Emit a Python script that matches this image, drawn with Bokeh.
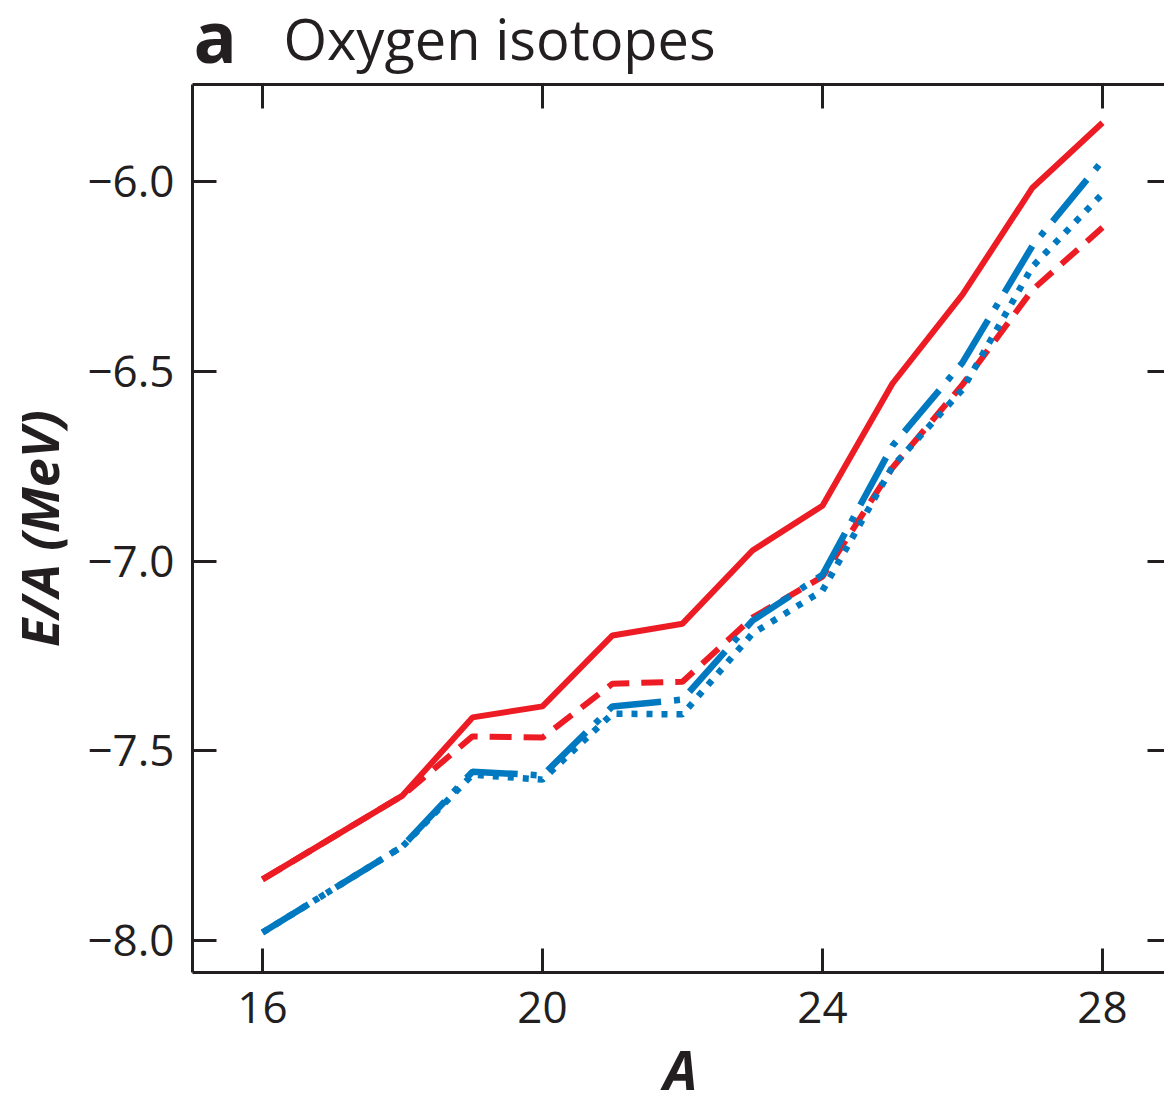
from bokeh.plotting import figure
from bokeh.layouts import column
from bokeh.models import Range1d, LinearAxis, FixedTicker, CustomJSTickFormatter
from bokeh.core.properties import value
from bokeh.embed import file_html
from bokeh.resources import INLINE

# ---- data ----
mass_number = [16, 18, 19, 20, 21, 22, 23, 24, 25, 26, 27, 28]
red_solid = [-7.839, -7.618, -7.412, -7.383, -7.196, -7.165, -6.972, -6.854, -6.532, -6.298, -6.016, -5.845]
red_dashed = [-7.839, -7.618, -7.462, -7.465, -7.323, -7.318, -7.149, -7.041, -6.754, -6.535, -6.285, -6.121]
blue_dashdot = [-7.979, -7.752, -7.555, -7.565, -7.383, -7.365, -7.157, -7.036, -6.696, -6.477, -6.169, -5.945]
blue_dotted = [-7.979, -7.752, -7.563, -7.576, -7.402, -7.404, -7.191, -7.078, -6.751, -6.548, -6.224, -6.032]

x_ticks = [16, 20, 24, 28]
x_tick_labels = ["16", "20", "24", "28"]
y_ticks = [-8.0, -7.5, -7.0, -6.5, -6.0]

panel_letter = "a"
title_text = "Oxygen isotopes"
x_label = "A"
y_label = "E/A (MeV)"

RED = "#ED1C24"
BLUE = "#0079C1"
INK = "#231F20"
FONT = "Open Sans"

W = 1164
TITLE_H = 80
LEFT = 192
FRAME_W = 972
FRAME_H = 888
TOP_GAP = 4
BOTTOM_GAP = 2
BOTTOM_H = 1094 - TITLE_H - TOP_GAP - FRAME_H - BOTTOM_GAP

x_range = Range1d(15.0, 28.886)


def bare(fig):
    fig.outline_line_color = None
    fig.background_fill_color = "white"
    fig.border_fill_color = "white"
    fig.grid.visible = False


# ---- title strip (canvas-pixel coordinates) ----
t = figure(frame_width=FRAME_W, frame_height=TITLE_H, output_backend="svg", toolbar_location=None,
           x_range=Range1d(LEFT, W), y_range=Range1d(TITLE_H, 0),
           min_border_left=LEFT, min_border_right=0, min_border_top=0, min_border_bottom=0,
           x_axis_location=None, y_axis_location=None)
bare(t)
t.text(x=[193], y=[34], text=[panel_letter], text_font=value(FONT), text_font_style="bold",
       text_font_size="72px", text_color=INK, text_align="left", text_baseline="alphabetic")
t.text(x=[283], y=[37], text=[title_text], text_font=value(FONT), text_font_style="normal",
       text_font_size="56px", text_color=INK, text_align="left", text_baseline="alphabetic")

# ---- main plot ----
p = figure(frame_width=FRAME_W, frame_height=FRAME_H, output_backend="svg", toolbar_location=None,
           x_range=x_range, y_range=Range1d(-8.0843, -5.744),
           min_border_left=LEFT, min_border_right=0, min_border_top=TOP_GAP,
           min_border_bottom=BOTTOM_GAP, x_axis_location=None, y_axis_location=None)
bare(p)

fmt = CustomJSTickFormatter(code="return (tick < 0 ? '\\u2212' : '') + Math.abs(tick).toFixed(1);")


def style_axis(ax, show_labels=True, line=True, tick_in=24):
    ax.axis_line_color = INK if line else None
    ax.axis_line_width = 3
    ax.major_tick_line_color = INK
    ax.major_tick_line_width = 3
    ax.major_tick_in = tick_in
    ax.major_tick_out = 0
    ax.minor_tick_in = 0
    ax.minor_tick_out = 0
    ax.minor_tick_line_color = None
    if show_labels:
        ax.major_label_text_font = FONT
        ax.major_label_text_font_size = "44px"
        ax.major_label_text_color = INK
        ax.axis_label_text_font = FONT
        ax.axis_label_text_font_style = "bold italic"
        ax.axis_label_text_color = INK
    else:
        ax.axis_label = None
        ax.major_label_text_font_size = "0px"
        ax.major_label_standoff = 0
        ax.major_label_text_color = None


bottom = LinearAxis(ticker=FixedTicker(ticks=x_ticks))
style_axis(bottom, show_labels=False)
p.add_layout(bottom, "below")

top = LinearAxis(ticker=FixedTicker(ticks=x_ticks))
style_axis(top, show_labels=False)
p.add_layout(top, "above")

left = LinearAxis(ticker=FixedTicker(ticks=y_ticks), formatter=fmt, axis_label=y_label)
style_axis(left)
left.major_label_standoff = 18
left.axis_label_text_font_size = "52px"
left.axis_label_standoff = 10
p.add_layout(left, "left")

right = LinearAxis(ticker=FixedTicker(ticks=y_ticks))
style_axis(right, show_labels=False, line=False, tick_in=17)
p.add_layout(right, "right")

p.line(mass_number, red_solid, line_color=RED, line_width=6)
p.line(mass_number, red_dashed, line_color=RED, line_width=6, line_dash="22 12")
p.line(mass_number, blue_dotted, line_color=BLUE, line_width=6.5, line_dash="6 9")
p.line(mass_number, blue_dashdot, line_color=BLUE, line_width=6.5, line_dash="54 13 6 13")

# ---- bottom strip: x tick labels and axis title, on the same x scale ----
b = figure(frame_width=FRAME_W, frame_height=BOTTOM_H, output_backend="svg", toolbar_location=None,
           x_range=x_range, y_range=Range1d(BOTTOM_H, 0),
           min_border_left=LEFT, min_border_right=0, min_border_top=0, min_border_bottom=0,
           x_axis_location=None, y_axis_location=None)
bare(b)
b.text(x=x_ticks, y=[33] * len(x_ticks), text=x_tick_labels, text_font=value(FONT),
       text_font_size="44px", text_color=INK, text_align="center", text_baseline="alphabetic")
b.text(x=[21.971], y=[94], text=[x_label], text_font=value(FONT), text_font_style="bold italic",
       text_font_size="54px", text_color=INK, text_align="center", text_baseline="alphabetic")

layout = column(t, p, b, spacing=0)
open("out.html", "w").write(file_html(layout, INLINE))
